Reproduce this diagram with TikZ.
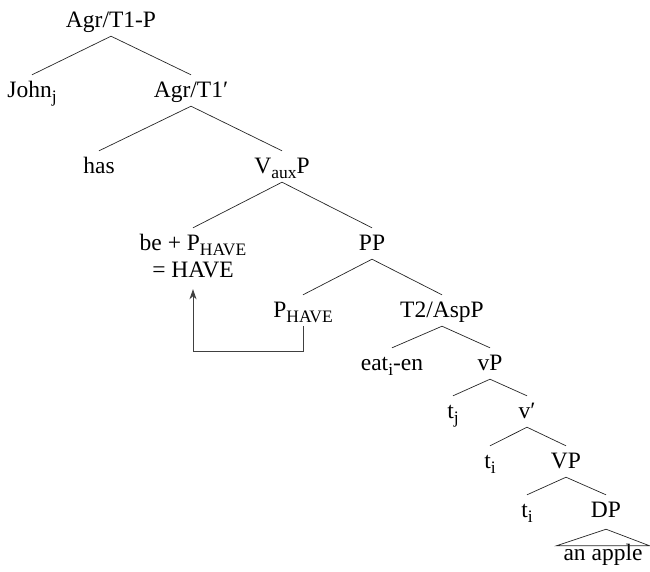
\documentclass[tikz,border=0pt]{standalone}
\usepackage{fontspec}
\setmainfont{Liberation Serif}
\usetikzlibrary{calc,arrows.meta}
% subscripts set at three quarters of the body size
\newcommand{\sbs}[1]{\raisebox{-0.22em}{\fontsize{17.5}{20}\selectfont #1}}
\begin{document}
\begin{tikzpicture}[x=1pt,y=-1pt,
  lbl/.style={anchor=base,font=\fontsize{23.5}{28}\selectfont,
    text height=15pt,text depth=2pt,inner xsep=2pt,inner ysep=7pt},
  leaf/.style={anchor=base,font=\fontsize{23.5}{28}\selectfont,
    text height=13pt,text depth=5pt,inner xsep=7pt,inner ysep=1pt},
  branch/.style={draw=black!85,line width=0.7pt},
  move/.style={draw=black!75,line width=0.9pt,-{Stealth[length=10pt,width=7pt,inset=3pt]}}]
\useasboundingbox (0,0) rectangle (650,571);

% nodes of the tree
\node[lbl] (root) at (111,27) {Agr/T1-P};
\node[lbl] (john) at (32,97) {John\sbs{j}};
\node[lbl] (agr1) at (191,97) {Agr/T1′};
\node[lbl] (has)  at (99,173) {has};
\node[lbl] (vaux) at (282,173) {V\sbs{aux}P};
\node[lbl] (bep)  at (193,250) {be + P\sbs{HAVE}};
\node[lbl] (have) at (193,277) {= HAVE};
\node[lbl] (pp)   at (372,250) {PP};
\node[lbl] (ph)   at (303,317) {P\sbs{HAVE}};
\node[lbl] (t2)   at (442,317) {T2/AspP};
\node[lbl] (eat)  at (392,370) {eat\sbs{i}-en};
\node[lbl] (vp)   at (490,370) {vP};
\node[lbl] (tj)   at (453,418) {t\sbs{j}};
\node[lbl] (vbar) at (527,418) {v′};
\node[lbl] (tia)  at (490,468) {t\sbs{i}};
\node[lbl] (VP)   at (566,468) {VP};
\node[lbl] (tib)  at (527,517) {t\sbs{i}};
\node[lbl] (dp)   at (606,517) {DP};
\node[leaf] (apple) at (603,560) {an apple};

% branches
\foreach \p/\c in {root/john,root/agr1,agr1/has,agr1/vaux,vaux/bep,vaux/pp,
                   pp/ph,pp/t2,t2/eat,t2/vp,vp/tj,vp/vbar,vbar/tia,vbar/VP,
                   VP/tib,VP/dp}
  \draw[branch] (\p.south) -- (\c.north);

% triangle over the DP
\draw[branch] ($(dp.south)+(0,3)$) -- (apple.north west) -- (apple.north east) -- cycle;

% head movement of P_HAVE
\coordinate (bot) at (193,351);
\draw[move] (ph.south) -- (ph.south |- bot) -| ($(have.south)+(0,3)$);
\end{tikzpicture}
\end{document}
